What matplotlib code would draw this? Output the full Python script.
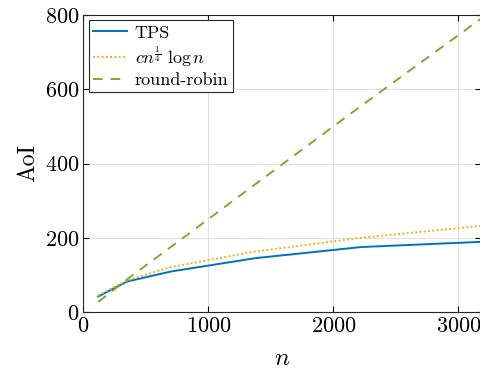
import matplotlib
matplotlib.use('Agg')
import matplotlib.pyplot as plt

# data
n_vals = [120, 350, 700, 1375, 2225, 3180]
tps = [42, 82, 109, 145, 175, 189]
bound = [45, 85, 121, 163, 200, 232]
rr = [27, 88, 175, 344, 556, 790]

plt.rcParams['font.family'] = 'serif'
plt.rcParams['font.serif'] = ['cmr10', 'DejaVu Serif']
plt.rcParams['mathtext.fontset'] = 'cm'
plt.rcParams['axes.formatter.use_mathtext'] = True

fig = plt.figure(figsize=(4.81, 3.75), dpi=100)
ax = fig.add_axes([0.173, 0.168, 0.827, 0.792])

ax.plot(n_vals, tps, color='#0072BD', lw=1.4, label='TPS')
ax.plot(n_vals, bound, color='#EDB120', lw=1.4, ls=(0, (1, 1.2)),
        label=r'$cn^{\frac{1}{4}}\ \log n$')
ax.plot(n_vals, rr, color='#77AC30', lw=1.4, ls=(0, (5, 4)), label='round-robin')

ax.set_xlim(0, 3180)
ax.set_ylim(0, 800)
ax.set_xticks([0, 1000, 2000, 3000])
ax.set_yticks([0, 200, 400, 600, 800])
ax.grid(True, color='#e0e0e0', lw=0.8)
ax.set_axisbelow(True)
ax.tick_params(direction='in', labelsize=16, length=4, top=True, right=True, pad=3)
for s in ax.spines.values():
    s.set_color('#262626')
    s.set_linewidth(0.8)

ax.set_xlabel(r'$n$', fontsize=18, labelpad=9)
ax.set_ylabel('AoI', fontsize=17, labelpad=4)

leg = ax.legend(loc='upper left', fontsize=13, frameon=True, fancybox=False,
                edgecolor='#262626', framealpha=1, borderaxespad=0.3,
                handlelength=1.9, handletextpad=0.4, labelspacing=0.2,
                borderpad=0.25)
leg.get_frame().set_linewidth(0.8)

fig.savefig('out.png', dpi=100)
